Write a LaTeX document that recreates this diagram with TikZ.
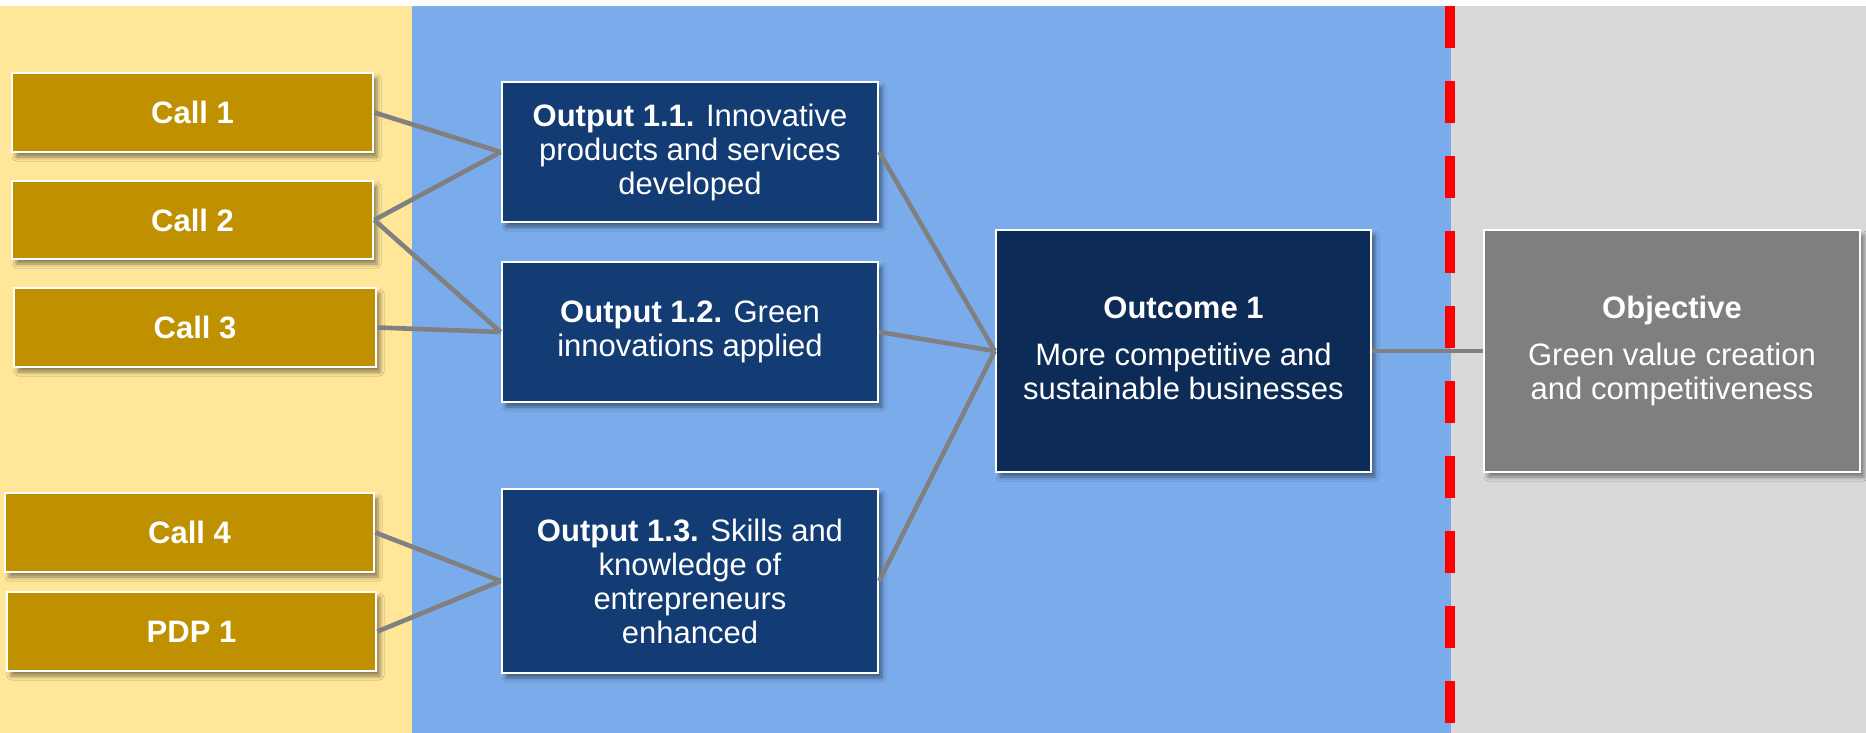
\documentclass[tikz,border=0pt]{standalone}
\usepackage{fontspec}
\setmainfont{Liberation Sans}
\usetikzlibrary{shadows,shadows.blur}
\definecolor{bgyellow}{RGB}{255,230,153}
\definecolor{bgblue}{RGB}{122,171,235}
\definecolor{bggray}{RGB}{217,217,217}
\definecolor{callfill}{RGB}{191,144,0}
\definecolor{outfill}{RGB}{18,60,115}
\definecolor{outcfill}{RGB}{12,43,87}
\definecolor{objfill}{RGB}{127,127,127}
\definecolor{connc}{RGB}{128,128,128}
\begin{document}
\begin{tikzpicture}[x=1pt,y=-1pt,
  box/.style={draw=white, line width=2.5pt, align=center, text=white, inner sep=0pt,
    blur shadow={shadow xshift=4pt, shadow yshift=-5pt, shadow blur radius=4pt, shadow opacity=45},
    font=\fontsize{31}{34}\selectfont},
  callbox/.style={box, fill=callfill, font=\fontsize{31}{34}\selectfont\bfseries},
  outbox/.style={box, fill=outfill, minimum width=376pt},
  outcbox/.style={box, fill=outcfill},
  objbox/.style={box, fill=objfill},
  conn/.style={draw=connc, line width=4.6pt},
  redline/.style={draw=red, line width=10pt, dash pattern=on 42pt off 33pt}
]
\useasboundingbox (0,0) rectangle (1866,733);
\fill[white] (0,0) rectangle (1866,733);
\fill[bgyellow] (0,6) rectangle (412,733);
\fill[bgblue] (412,6) rectangle (1451,733);
\fill[bggray] (1451,6) rectangle (1866,733);
\coordinate (rtop) at (1450,6);
\coordinate (rbot) at (1450,733);
\draw[redline] (rtop) -- (rbot);

\node[callbox, minimum width=361pt, minimum height=79pt] (c1) at (192.5,112.5) {Call 1};
\node[callbox, minimum width=361pt, minimum height=78pt] (c2) at (192.5,220) {Call 2};
\node[callbox, minimum width=362pt, minimum height=79pt] (c3) at (195,327.5) {Call 3};
\node[callbox, minimum width=369pt, minimum height=79pt] (c4) at (189.5,532.5) {Call 4};
\node[callbox, minimum width=369pt, minimum height=79pt] (p1) at (191.5,631.5) {PDP 1};

\node[outbox, minimum height=140pt] (o1) at (690,152) {\textbf{Output 1.1.} Innovative\\products and services\\developed};
\node[outbox, minimum height=140pt] (o2) at (690,332) {\textbf{Output 1.2.} Green\\innovations applied};
\node[outbox, minimum height=184pt] (o3) at (690,581) {\textbf{Output 1.3.} Skills and\\knowledge of\\entrepreneurs\\enhanced};

\node[outcbox, minimum width=375pt, minimum height=242pt] (oc) at (1183.5,351) {\textbf{Outcome 1}\\[13pt]More competitive and\\sustainable businesses\vphantom{p}};
\node[objbox, minimum width=376pt, minimum height=242pt] (ob) at (1672,351) {\textbf{Objective}\\[13pt]Green value creation\\and competitiveness};

\draw[conn] (c1.east) -- (o1.west);
\draw[conn] (c2.east) -- (o1.west);
\draw[conn] (c2.east) -- (o2.west);
\draw[conn] (c3.east) -- (o2.west);
\draw[conn] (c4.east) -- (o3.west);
\draw[conn] (p1.east) -- (o3.west);
\draw[conn] (o1.east) -- (oc.west);
\draw[conn] (o2.east) -- (oc.west);
\draw[conn] (o3.east) -- (oc.west);
\draw[conn] (oc.east) -- (ob.west);
\end{tikzpicture}
\end{document}
